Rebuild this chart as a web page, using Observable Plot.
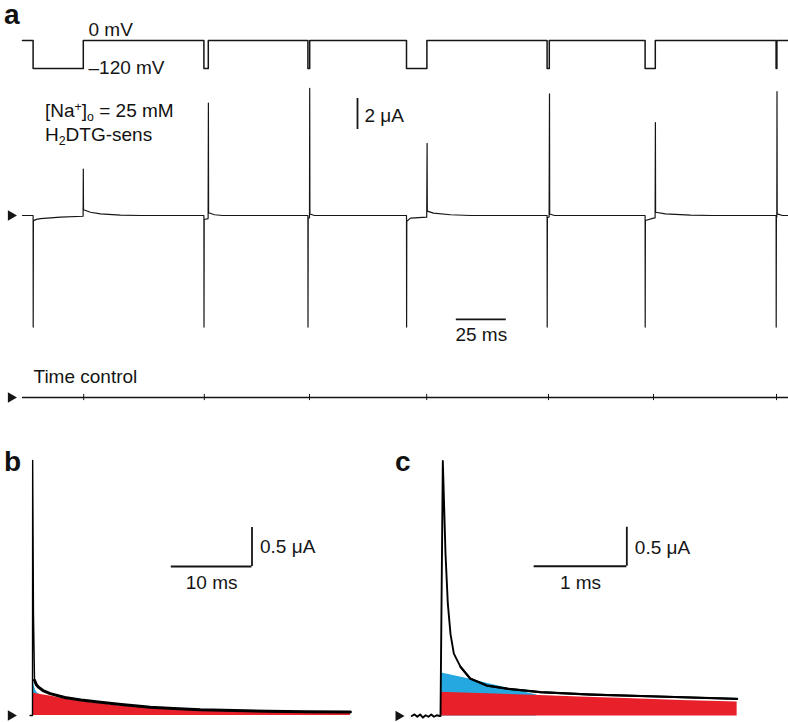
<!DOCTYPE html>
<html><head><meta charset="utf-8">
<script src="https://cdn.jsdelivr.net/npm/d3@7"></script>
<script src="https://cdn.jsdelivr.net/npm/@observablehq/plot@0.6"></script>
<style>
body{margin:0;background:#fff;}
#fig{position:relative;width:788px;height:722px;overflow:hidden;font-family:"Liberation Sans",Arial,Helvetica,sans-serif;color:#111;}
#fig svg{position:absolute;left:0;top:0;}
.lbl{position:absolute;font-size:19px;line-height:19px;white-space:nowrap;}
.panel{position:absolute;font-weight:bold;font-size:28px;line-height:28px;}
.up{position:relative;top:-0.45em;font-size:0.65em;}
.dn{position:relative;top:0.3em;font-size:0.65em;}
</style></head>
<body><div id="fig"></div>
<script>
// ---------- data ----------
// voltage protocol (ms, mV)
const pulseOn  = [5.3, 90.7, 142.7, 192.0, 262.3, 311.3, 376.8];
const pulseOff = [30.4, 92.9, 143.6, 202.2, 263.4, 316.4, 377.2];
const holdingMV = 0, testMV = -120, sweepEnd = 383;

// panel a, H2DTG-sensitive current (ms, µA)
const currentA = [
  [0,0],[5.3,0],[5.35,-7.2],[5.45,-0.33],[7,-0.25],[9,-0.2],[19,-0.11],[30.3,-0.05],
  [30.4,3.0],[30.5,0.37],[34,0.21],[39,0.11],[49,0.03],[59,0],
  [90.7,0],[90.75,-7.2],[90.85,-0.26],[92.8,-0.2],[92.95,7.25],[93.05,0.18],[96,0.05],[100,0],
  [142.7,0],[142.75,-7.2],[142.85,-0.2],[143.5,-0.15],[143.6,8.2],[143.7,0.1],[146,0],
  [192,0],[192.05,-7.2],[192.15,-0.37],[194,-0.17],[202.1,-0.11],[202.3,4.65],[202.4,0.28],[205.5,0.15],[214,0.05],[224,0],
  [262.3,0],[262.35,-7.2],[262.45,-0.15],[263.3,-0.1],[263.5,7.85],[263.6,0.1],[266,0],
  [311.3,0],[311.35,-7.2],[311.45,-0.32],[315.5,-0.17],[316.3,-0.15],[316.45,6.0],[316.55,0.21],[321.5,0.11],[334,0.03],[345,0],
  [376.8,0],[376.85,-7.2],[376.95,-0.1],[377.15,-0.1],[377.25,8.0],[377.35,0.1],[380,0],[383,0]
];
// time control: artefact ticks (ms)
const controlTicks = [30.6, 90.9, 143.5, 202.1, 263.0, 315.5, 377.0];

// panel b (ms, µA)
const bTrace = [[-0.3,0],[0,0],[0.02,3.27],[0.12,1.3],[0.25,0.45],[0.5,0.39],[0.78,0.36],[1.3,0.32],[2.2,0.28],[4,0.23],[6,0.2],[8.4,0.17],[11,0.14],[14.6,0.106],[17.5,0.09],[20.8,0.073],[25,0.063],[29.1,0.055],[34,0.047],[39.4,0.045]];
const bSlow  = [[0,0.29],[1,0.27],[2.2,0.25],[4,0.21],[6,0.18],[8.4,0.15],[11,0.12],[14.6,0.095],[20.8,0.065],[29.1,0.045],[39.4,0.035]];
const bTotal = [[0,0.51],[0.12,0.43],[0.25,0.37],[0.4,0.32],[0.6,0.29],[0.8,0.28]];

// panel c (ms, µA)
const cTrace = [[-0.31,0],[-0.28,0.02],[-0.25,-0.01],[-0.22,0.02],[-0.19,-0.02],[-0.16,0.01],[-0.13,-0.01],[-0.1,0.02],[-0.07,-0.01],[-0.04,0.01],[-0.01,0],[0,0],
  [0.025,3.27],[0.054,2.08],[0.079,1.44],[0.108,1.05],[0.144,0.8],[0.216,0.63],[0.32,0.48],[0.5,0.39],[0.72,0.35],[1.08,0.305],[1.62,0.275],[2.34,0.25],[3.2,0.22]];
const cSlow  = [[0,0.305],[0.5,0.285],[1,0.265],[1.5,0.245],[2,0.225],[2.6,0.2],[3.2,0.18]];
const cTotal = [[0,0.555],[0.25,0.49],[0.5,0.42],[0.75,0.35],[1.04,0.27]];

// scale bars
const barA = {t: 167.5, i1: 5.55, i2: 7.55, label: "2 μA"};
const barAt = {t1: 216.9, t2: 241.9, i: -6.7, label: "25 ms"};
const barB = {t1: 17.2, t2: 27.2, i1: 1.91, i2: 2.41, tLabel: "10 ms", iLabel: "0.5 μA"};
const barC = {t1: 1.01, t2: 2.01, i1: 1.92, i2: 2.42, tLabel: "1 ms", iLabel: "0.5 μA"};

// ---------- drawing ----------
const RED = "#e8202a", BLUE = "#25a8df", INK = "#151515";
const W = 788, H = 722, FS = 19;
const FONT = "Liberation Sans, Arial, Helvetica, sans-serif";
const fig = document.getElementById("fig");
const base = {width: W, height: H, margin: 0,
  style: {background: "transparent", fontFamily: FONT, fontSize: FS + "px", color: INK, overflow: "visible"}};
const X = d => d[0], Y = d => d[1];
const arrow = (x) => Plot.dot([[x, 0]], {x: X, y: Y, symbol: "triangle", r: 3.9, rotate: 90, fill: INK, stroke: null});

// protocol
const proto = [[0, holdingMV]];
pulseOn.forEach((on, k) => { proto.push([on, holdingMV], [on, testMV], [pulseOff[k], testMV], [pulseOff[k], holdingMV]); });
proto.push([sweepEnd, holdingMV]);

const xA = {domain: [0, 1], range: [22, 24], axis: null};

fig.append(Plot.plot({...base,
  x: xA, y: {domain: [-120, 0], range: [68, 40], axis: null},
  marks: [
    Plot.line(proto, {x: X, y: Y, stroke: INK, strokeWidth: 1.5}),
    Plot.text([[33, 0, "0 mV"]], {x: X, y: Y, text: d => d[2], textAnchor: "start", lineAnchor: "bottom", dy: -5, fontSize: FS, fill: INK}),
    Plot.text([[33, -120, "–120 mV"]], {x: X, y: Y, text: d => d[2], textAnchor: "start", lineAnchor: "middle", dy: -1, fontSize: FS, fill: INK})
  ]}));

fig.append(Plot.plot({...base,
  x: xA, y: {domain: [0, 1], range: [215, 199.5], axis: null},
  marks: [
    Plot.line(currentA, {x: X, y: Y, stroke: INK, strokeWidth: 1.2}),
    arrow(-5.8),
    Plot.ruleX([barA], {x: "t", y1: "i1", y2: "i2", stroke: INK, strokeWidth: 1.8}),
    Plot.text([barA], {x: d => d.t + 3.5, y: 6.4, text: "label", textAnchor: "start", lineAnchor: "middle", fontSize: FS, fill: INK}),
    Plot.ruleY([barAt], {y: "i", x1: "t1", x2: "t2", stroke: INK, strokeWidth: 1.8}),
    Plot.text([barAt], {x: d => (d.t1 + d.t2) / 2, y: "i", text: "label", lineAnchor: "top", dy: 8, fontSize: FS, fill: INK})
  ]}));

fig.append(Plot.plot({...base,
  x: xA, y: {domain: [0, 1], range: [397, 381.5], axis: null},
  marks: [
    Plot.ruleY([0], {x1: 0, x2: sweepEnd, stroke: INK, strokeWidth: 1.7}),
    Plot.ruleX(controlTicks, {x: d => d, y1: -0.2, y2: 0.2, stroke: INK, strokeWidth: 1}),
    arrow(-5.8),
    Plot.text(["Time control"], {x: 5.5, y: 0, text: d => d, textAnchor: "start", lineAnchor: "bottom", dy: -15, fontSize: FS, fill: INK})
  ]}));

function panel(trace, slow, total, bar, xs, ys, arrowT, lwSpike, lwTail, tailFrom) {
  return Plot.plot({...base, x: {...xs, axis: null}, y: {...ys, axis: null},
    marks: [
      Plot.areaY(total, {x: X, y: Y, fill: BLUE}),
      Plot.areaY(slow, {x: X, y: Y, fill: RED}),
      Plot.line(trace, {x: X, y: Y, stroke: "#000", strokeWidth: lwSpike}),
      Plot.line(trace.filter(d => d[0] >= tailFrom), {x: X, y: Y, stroke: "#000", strokeWidth: lwTail}),
      arrow(arrowT),
      Plot.ruleX([bar], {x: "t2", y1: "i1", y2: "i2", stroke: INK, strokeWidth: 1.8}),
      Plot.ruleY([bar], {y: "i1", x1: "t1", x2: "t2", stroke: INK, strokeWidth: 1.8}),
      Plot.text([bar], {x: "t2", y: 2.08, text: "iLabel", textAnchor: "start", lineAnchor: "bottom", dx: 8, fontSize: FS, fill: INK}),
      Plot.text([bar], {x: d => (d.t1 + d.t2) / 2, y: "i1", text: "tLabel", lineAnchor: "top", dy: 9, fontSize: FS, fill: INK})
    ]});
}
fig.append(panel(bTrace, bSlow, bTotal, barB, {domain: [0, 10], range: [32, 112.7]}, {domain: [0, 1], range: [715, 637]}, -2.68, 1.4, 3, 0.25));
fig.append(panel(cTrace, cSlow, cTotal, barC, {domain: [0, 1], range: [440, 532.7]}, {domain: [0, 1], range: [715.5, 637.5]}, -0.453, 1.9, 2.2, 0.2));

// HTML labels
const html = [
  ['panel', 4, 1, 'a'], ['panel', 4, 448, 'b'], ['panel', 395, 448, 'c'],
  ['lbl', 45, 100.9, '[Na<span class="up">+</span>]<span class="dn">o</span> = 25 mM'],
  ['lbl', 45, 124.9, 'H<span class="dn">2</span>DTG-sens']
];
html.forEach(([cls, l, t, s]) => { const d = document.createElement('div'); d.className = cls; d.style.left = l + 'px'; d.style.top = t + 'px'; d.innerHTML = s; fig.append(d); });
</script>
</body></html>
